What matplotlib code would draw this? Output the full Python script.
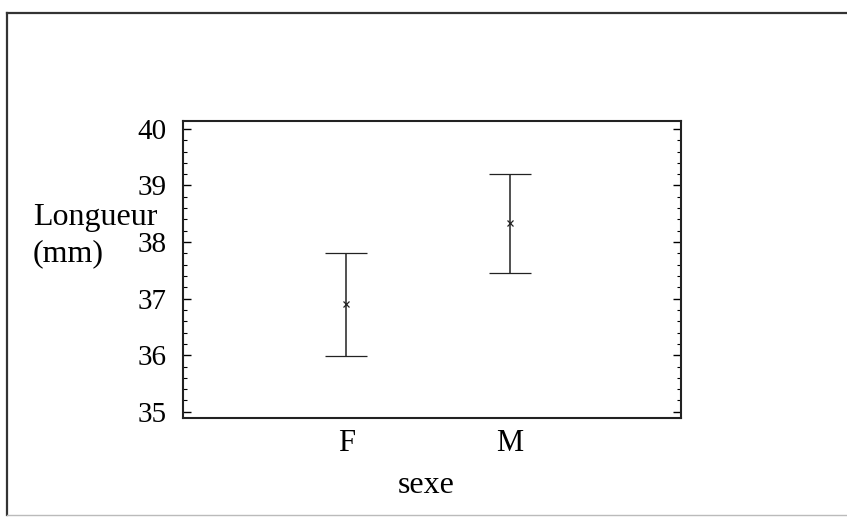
import matplotlib
matplotlib.use("Agg")
import matplotlib.pyplot as plt
from matplotlib.lines import Line2D
from matplotlib.ticker import MultipleLocator

plt.rcParams['font.family'] = ['Liberation Serif', 'DejaVu Serif']

# Group means with interval half-widths for body length by sex
categories = ["F", "M"]
means = [36.90, 38.33]
half_widths = [0.91, 0.87]

fig = plt.figure(figsize=(8.47, 5.17), dpi=100)
W, H = 847, 517

# Outer frame around the whole graphic
fig.add_artist(Line2D([7 / W, 1.0], [1 - 13 / H, 1 - 13 / H], color="#333333", lw=1.6))
fig.add_artist(Line2D([7 / W, 7 / W], [1 - 13 / H, 2 / H], color="#333333", lw=1.6))
fig.add_artist(Line2D([7 / W, 1.0], [2 / H, 2 / H], color="#bbbbbb", lw=1.0))

ax = fig.add_axes([183 / W, 1 - 418 / H, (681 - 183) / W, (418 - 121) / H])

x = [i + 1 for i in range(len(categories))]
ax.errorbar(x, means, yerr=half_widths, fmt="x", color="#222222",
            ecolor="#222222", elinewidth=1.1, capsize=15, capthick=1.1,
            markersize=4, markeredgewidth=0.9)

ax.set_xlim(0.0, 3.05)
ax.set_ylim(34.89, 40.14)
ax.set_xticks(x)
ax.set_xticklabels(categories)
ax.yaxis.set_major_locator(MultipleLocator(1))
ax.yaxis.set_minor_locator(MultipleLocator(0.2))

ax.tick_params(axis="x", length=0, labelsize=22, pad=8)
ax.tick_params(axis="y", which="major", direction="in", length=6, width=1,
               left=True, right=True, labelsize=21, pad=12)
ax.tick_params(axis="y", which="minor", direction="in", length=3, width=0.8,
               left=True, right=True)

for sp in ax.spines.values():
    sp.set_linewidth(1.5)
    sp.set_color("#222222")

fig.text(426 / W, 1 - 493 / H, "sexe", fontsize=23, ha="center", va="baseline")
fig.text(33 / W, 1 - 225 / H, "Longueur", fontsize=23, ha="left", va="baseline")
fig.text(33 / W, 1 - 261 / H, "(mm)", fontsize=23, ha="left", va="baseline")

fig.savefig("out.png", dpi=100)
